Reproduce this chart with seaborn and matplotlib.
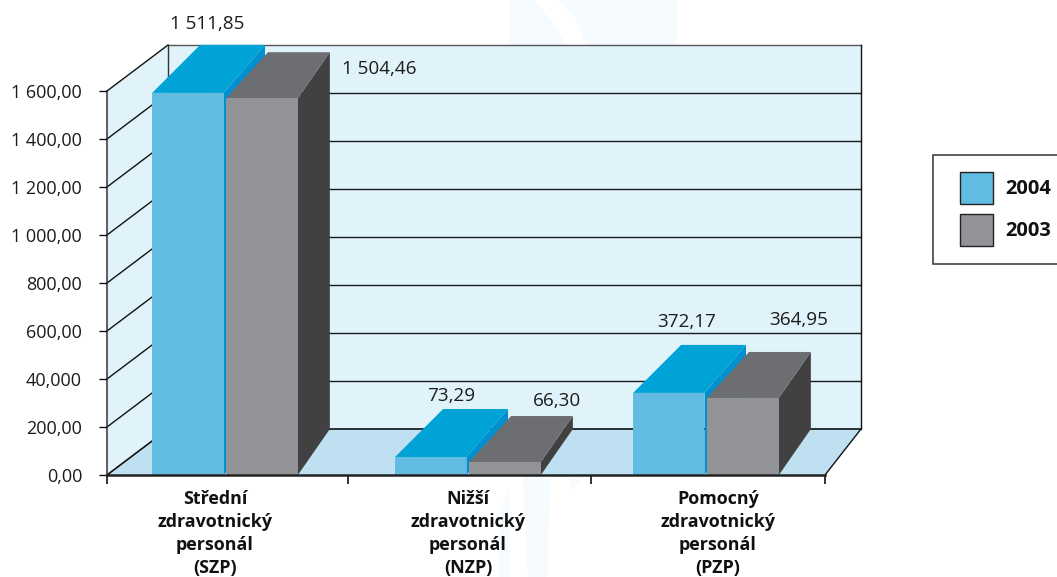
import matplotlib
matplotlib.use("Agg")
import matplotlib.pyplot as plt
import seaborn as sns
import pandas as pd
from matplotlib.patches import Polygon, Rectangle
from matplotlib.transforms import Affine2D, IdentityTransform

categories = ["Střední\nzdravotnický\npersonál", "Nižší\nzdravotnický\npersonál", "Pomocný\nzdravotnický\npersonál"]
short_names = ["(SZP)", "(NZP)", "(PZP)"]
series_names = ["2004", "2003"]
drawn_2004 = [1592, 75, 342]
drawn_2003 = [1570, 54, 321]
labels_2004 = ["1 511,85", "73,29", "372,17"]
labels_2003 = ["1 504,46", "66,30", "364,95"]
y_ticks = [0, 200, 400, 600, 800, 1000, 1200, 1400, 1600]
y_tick_labels = ["0,00", "200,00", "40,000", "600,00", "800,00", "1 000,00", "1 200,00", "1 400,00", "1 600,00"]

W, H = 1057, 577
FONT = "Open Sans"
TXT = "#1c1c1c"
plt.rcParams["font.family"] = [FONT, "DejaVu Sans"]

fig = plt.figure(figsize=(W / 100, H / 100), dpi=100, facecolor="white")
ax = fig.add_axes([107 / W, (H - 475) / H, (825 - 107) / W, 384 / H])
px = Affine2D().scale(1, -1).translate(0, H)

df = pd.DataFrame({
    "cat": categories * 2,
    "year": [series_names[0]] * 3 + [series_names[1]] * 3,
    "val": drawn_2004 + drawn_2003,
})
sns.barplot(data=df, x="cat", y="val", hue="year", hue_order=series_names,
            palette=["#62BBE0", "#929396"], width=0.606, gap=0, saturation=1,
            errorbar=None, ax=ax, linewidth=0)

# axes scale: categories centred at the picture's cluster centres
U = 240.5
def x_of(p):
    return (p - 225) / U
ax.set_xlim(x_of(107), x_of(825))
ax.set_ylim(0, 1600)
ax.patch.set_visible(False)
sns.despine(ax=ax, left=True, top=True, right=True, bottom=True)
ax.set_xlabel("")
ax.set_ylabel("")
ax.set_xticks([x_of(p) for p in (107, 348, 591, 825)], ["", "", "", ""])
ax.tick_params(axis="x", length=6.5, width=1.2, color="#111111")
ax.set_yticks(y_ticks, y_tick_labels)
ax.tick_params(axis="y", length=6, width=1, color="#111111", pad=12, labelsize=13, labelcolor=TXT)

# chart walls and floor
def poly(pts, color, z, **kw):
    fig.add_artist(Polygon(pts, closed=True, facecolor=color, edgecolor="none", transform=px, zorder=z, **kw))

def line(xs, ys, z=1.5, color="#111111", lw=1.0):
    fig.add_artist(plt.Line2D(xs, ys, color=color, lw=lw, transform=px, zorder=z))

# pale watermark behind the chart
poly([(509, 0), (677, 0), (677, 45), (509, 45)], "#F5FBFE", 0.1)
poly([(533, 0), (558, 0), (575, 18), (587, 45), (566, 45), (553, 22)], "white", 0.15)
poly([(523, 477), (550, 477), (547, 577), (528, 577)], "#F5FBFE", 0.1)
poly([(499, 577), (500, 510), (510, 490), (510, 577)], "#F5FBFE", 0.1)
poly([(570, 490), (583, 477), (570, 477)], "#F5FBFE", 0.1)

poly([(168, 45), (861, 45), (861, 429), (168, 429)], "#E0F3FB", 0.5)
poly([(107, 91), (168, 45), (168, 429), (107, 475)], "#E0F3FB", 0.5)
poly([(107, 475), (825, 475), (861, 429), (168, 429)], "#BEE0F0", 0.6)

for t in y_ticks[1:]:
    y = 475 - t * 0.24
    yb = y - 46
    line([107, 168], [y, yb])
    line([168, 861], [yb, yb], color="#1a1a1a" if t < 1600 else "#555555")
line([107, 168], [475, 429], lw=1.2)
line([168, 861], [429, 429], lw=1.2)
line([107, 107], [91, 475], color="#333333", lw=1.1)
line([168, 168], [45, 429], color="#333333", lw=1.0)
line([861, 861], [45, 429], color="#111111", lw=1.0)
line([825, 861], [475, 429], color="#111111", lw=1.0)
line([107, 825], [475, 475], color="#222222", lw=1.8, z=4)

# 3D bars: read front faces from the axes, extrude in pixels
fig.canvas.draw()
group_px = [225, 468, 706]
styles = [
    dict(top="#00A3D6", side="#0090CF", dl=48, dr=41.5, dy=48, z=2, shift=0, trim=1.5),
    dict(top="#6D6E71", side="#414141", dl=42, dr=32, dy=46, z=2.5, shift=1, trim=1),
]
for cont, st in zip(ax.containers, styles):
    for i, bar in enumerate(cont):
        bar.set_x(bar.get_x() + x_of(group_px[i]) - i + st["shift"] / U)
        bar.set_width(bar.get_width() - st["trim"] / U)
        (x0, y0), (x1, y1) = ax.transData.transform(
            [(bar.get_x(), 0), (bar.get_x() + bar.get_width(), bar.get_height())])
        ybase, ytop = H - y0, H - y1
        poly([(x1, ytop), (x1 + st["dr"], ytop - st["dy"]), (x1 + st["dr"], ybase - st["dy"]), (x1, ybase)], st["side"], st["z"])
        poly([(x0, ytop), (x1, ytop), (x1 + st["dr"], ytop - st["dy"]), (x0 + st["dl"], ytop - st["dy"])], st["top"], st["z"] + 0.1)
# bars must sit above the figure-level artists
ax.set_zorder(3)

# value labels
value_labels = labels_2004 + labels_2003
label_pos = [(207, 24), (451, 396), (687, 322), (379, 69), (557, 401), (799, 320)]
for s, (lx, ly) in zip(value_labels, label_pos):
    fig.text(lx, ly, s, transform=px, ha="center", va="center", fontsize=13.6, color=TXT, zorder=6)

# category labels
cat_px = [215, 468, 718]
for name, short, cx in zip(categories, short_names, cat_px):
    rows = name.split("\n") + [short]
    for k, row in enumerate(rows):
        fig.text(cx, 499 + k * 23, row, transform=px, ha="center", va="center",
                 fontsize=12.9, fontweight="bold", color="#111111", zorder=6)

# legend
fig.add_artist(Rectangle((933, 155), 160, 109, facecolor="white", edgecolor="#333333", lw=1.1, transform=px, zorder=0.3))
handles, labs = ax.get_legend_handles_labels()
fs = 14.4
em = fs * 100 / 72
leg = ax.legend(handles, labs, loc="upper left", bbox_to_anchor=(960, H - 172), bbox_transform=IdentityTransform(),
                frameon=False, borderpad=0, borderaxespad=0,
                handlelength=33 / em, handleheight=2.085, labelspacing=10 / em, handletextpad=12 / em,
                prop=dict(family=FONT, weight="bold", size=fs))
for h in leg.legend_handles:
    h.set_edgecolor("#222222")
    h.set_linewidth(1.0)
for t in leg.get_texts():
    t.set_color("#111111")

fig.savefig("out.png", dpi=100)
